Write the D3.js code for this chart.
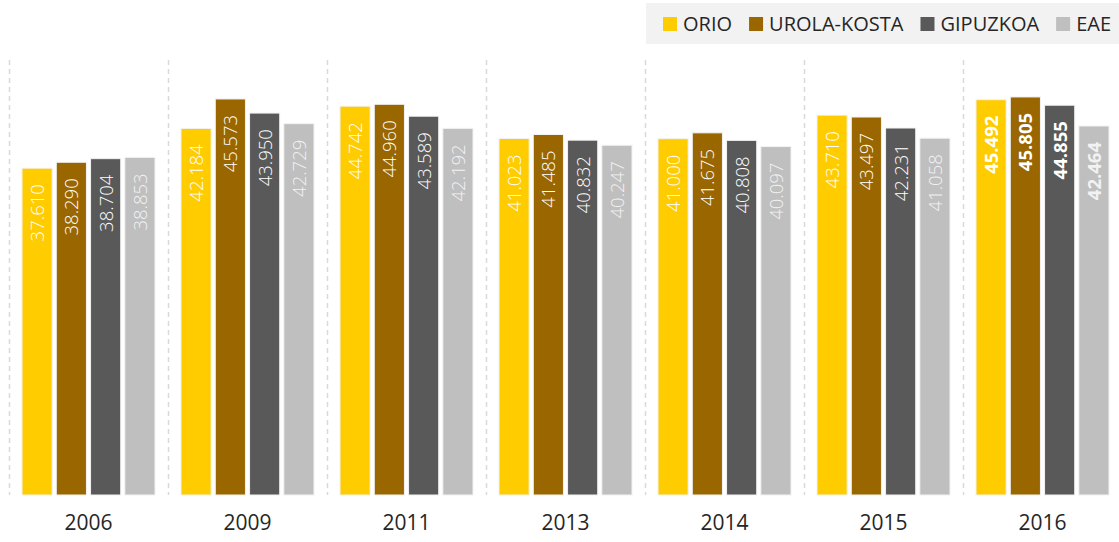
<!DOCTYPE html>
<html lang="en">
<head>
<meta charset="utf-8">
<title>Orio</title>
<script src="https://cdn.jsdelivr.net/npm/d3@7"></script>
<style>
  body { margin: 0; background: #fff; }
  svg text { font-family: "Open Sans", "Noto Sans", sans-serif; }
</style>
</head>
<body>
<script>
// data
var years = ["2006", "2009", "2011", "2013", "2014", "2015", "2016"];
var seriesNames = ["ORIO", "UROLA-KOSTA", "GIPUZKOA", "EAE"];
var orio = [37.610, 42.184, 44.742, 41.023, 41.000, 43.710, 45.492];
var urola = [38.290, 45.573, 44.960, 41.485, 41.675, 43.497, 45.805];
var gipuzkoa = [38.704, 43.950, 43.589, 40.832, 40.808, 42.231, 44.855];
var eae = [38.853, 42.729, 42.192, 40.247, 40.097, 41.058, 42.464];
var colors = ["#FFCC00", "#996600", "#595959", "#BFBFBF"];

var allSeries = [orio, urola, gipuzkoa, eae];

var w = 1119, h = 542;
var base = 495;

var svg = d3.select("body").append("svg")
  .attr("width", w)
  .attr("height", h);

var x0 = d3.scaleBand()
  .domain(years)
  .range([9, 9 + 159 * 7])
  .padding(0);

var x1 = d3.scaleBand()
  .domain(seriesNames)
  .range([13, 146])
  .paddingInner(0.12)
  .paddingOuter(0);

var y = d3.scaleLinear()
  .domain([0, 50])
  .range([base, base - 8.69 * 50]);

// dashed separators
svg.selectAll("line.sep")
  .data(years)
  .enter()
  .append("line")
  .attr("class", "sep")
  .attr("x1", function(d) { return x0(d) + 0.5; })
  .attr("x2", function(d) { return x0(d) + 0.5; })
  .attr("y1", 60)
  .attr("y2", base)
  .attr("stroke", "#d9d9d9")
  .attr("stroke-width", 1.5)
  .attr("stroke-dasharray", "5,4");

var groups = svg.selectAll("g.year")
  .data(years)
  .enter()
  .append("g")
  .attr("class", "year")
  .attr("transform", function(d) { return "translate(" + x0(d) + ",0)"; });

groups.each(function(yr, i) {
  var g = d3.select(this);
  var rows = seriesNames.map(function(s, j) {
    return { name: s, value: allSeries[j][i], color: colors[j] };
  });
  g.selectAll("rect")
    .data(rows)
    .enter()
    .append("rect")
    .attr("x", function(d) { return x1(d.name); })
    .attr("y", function(d) { return y(d.value); })
    .attr("width", x1.bandwidth())
    .attr("height", function(d) { return base - y(d.value); })
    .attr("fill", function(d) { return d.color; })
    .attr("stroke", "#f2f2f2")
    .attr("stroke-width", 1);

  g.selectAll("text.val")
    .data(rows)
    .enter()
    .append("text")
    .attr("class", "val")
    .attr("transform", function(d) {
      return "translate(" + (x1(d.name) + x1.bandwidth() / 2 + 7) + "," + (y(d.value) + 16) + ") rotate(-90)";
    })
    .attr("text-anchor", "end")
    .attr("font-size", "18.5px")
    .attr("font-weight", yr === "2016" ? 700 : 300)
    .attr("fill", function(d) { return d.name === "EAE" ? "#f2f2f2" : "#ffffff"; })
    .text(function(d) { return d3.format(".3f")(d.value); });
});

// x axis labels
var xAxis = d3.axisBottom(x0).tickSize(0).tickPadding(0);
var ax = svg.append("g")
  .attr("transform", "translate(0," + 515 + ")")
  .call(xAxis);
ax.select(".domain").remove();
ax.selectAll("text")
  .attr("font-size", "21px")
  .attr("fill", "#262626")
  .attr("dy", "0.71em")
  .style("font-family", "'Open Sans', sans-serif");

// legend
svg.append("rect")
  .attr("x", 646)
  .attr("y", 3)
  .attr("width", w - 646)
  .attr("height", 41)
  .attr("fill", "#f2f2f2");

var lx = 663;
seriesNames.forEach(function(s, j) {
  svg.append("rect")
    .attr("x", lx)
    .attr("y", 17)
    .attr("width", 14)
    .attr("height", 14)
    .attr("fill", colors[j]);
  var t = svg.append("text")
    .attr("x", lx + 20)
    .attr("y", 31)
    .attr("font-size", "20px")
    .attr("fill", "#262626")
    .text(s);
  lx = lx + 20 + t.node().getComputedTextLength() + 17;
});
</script>
</body>
</html>
